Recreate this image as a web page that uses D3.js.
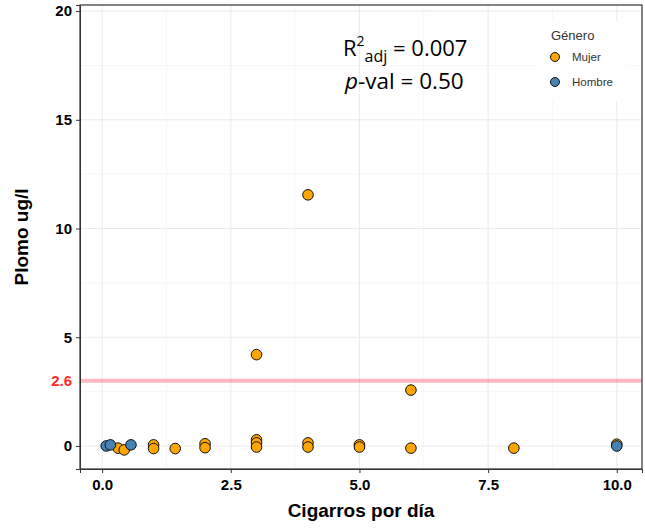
<!DOCTYPE html>
<html>
<head>
<meta charset="utf-8">
<script src="https://cdn.jsdelivr.net/npm/d3@7"></script>
<style>
  body { margin: 0; background: #fff; }
  text { font-family: "Liberation Sans", Arial, sans-serif; }
</style>
</head>
<body>
<div id="chart"></div>
<script>
// cigarettes per day (jittered) and lead values
const mujerX = [0.31, 0.43, 1.0, 1.0, 1.42, 2.0, 2.0, 3.0, 3.0, 3.0, 3.0, 4.0, 4.0, 4.0, 5.0, 5.0, 6.0, 6.0, 8.0, 10.0];
const mujerY = [-0.1, -0.18, 0.05, -0.12, -0.12, 0.1, -0.08, 0.28, 0.14, -0.05, 4.2, 0.14, -0.05, 11.55, 0.05, -0.05, 2.57, -0.1, -0.1, 0.08];
const hombreX = [0.08, 0.16, 0.56, 10.0];
const hombreY = [0.0, 0.05, 0.05, 0.0];

const groups = ["Mujer", "Hombre"];
const groupColors = ["#FFA500", "#4682B4"];

const xTicks = [0, 2.5, 5, 7.5, 10];
const yTicks = [0, 5, 10, 15, 20];
const xMinor = [1.25, 3.75, 6.25, 8.75];
const yMinor = [2.5, 7.5, 12.5, 17.5];

// reference line sits at ~3.0 on the axis but is labelled 2.6
const refLineValue = 3.0;
const refLineLabel = "2.6";

const margin = {top: 5, right: 3, bottom: 60, left: 80},
    width = 645 - margin.left - margin.right,
    height = 529 - margin.top - margin.bottom;

const svg = d3.select("#chart")
    .append("svg")
    .attr("width", width + margin.left + margin.right)
    .attr("height", height + margin.top + margin.bottom)
    .append("g")
    .attr("transform", `translate(${margin.left}, ${margin.top})`);

const x = d3.scaleLinear()
    .domain([-0.43, 10.49])
    .range([0, width]);
const y = d3.scaleLinear()
    .domain([-1.06, 20.28])
    .range([height, 0]);

// grid
const grid = svg.append("g");
grid.selectAll(".vminor").data(xMinor).join("line")
    .attr("x1", d => x(d)).attr("x2", d => x(d))
    .attr("y1", 0).attr("y2", height)
    .attr("stroke", "#f2f2f2").attr("stroke-width", 0.6);
grid.selectAll(".hminor").data(yMinor).join("line")
    .attr("y1", d => y(d)).attr("y2", d => y(d))
    .attr("x1", 0).attr("x2", width)
    .attr("stroke", "#f2f2f2").attr("stroke-width", 0.6);
grid.selectAll(".vmajor").data(xTicks).join("line")
    .attr("x1", d => x(d)).attr("x2", d => x(d))
    .attr("y1", 0).attr("y2", height)
    .attr("stroke", "#ebebeb").attr("stroke-width", 1.1);
grid.selectAll(".hmajor").data(yTicks).join("line")
    .attr("y1", d => y(d)).attr("y2", d => y(d))
    .attr("x1", 0).attr("x2", width)
    .attr("stroke", "#ebebeb").attr("stroke-width", 1.1);

// reference line
svg.append("line")
    .attr("x1", 0).attr("x2", width)
    .attr("y1", y(refLineValue)).attr("y2", y(refLineValue))
    .attr("stroke", "#ff4d5e")
    .attr("stroke-opacity", 0.4)
    .attr("stroke-width", 4);

// points
const points = [];
mujerX.forEach((v, i) => points.push({x: v, y: mujerY[i], g: 0}));
hombreX.forEach((v, i) => points.push({x: v, y: hombreY[i], g: 1}));

svg.append("g")
    .selectAll("circle")
    .data(points)
    .join("circle")
    .attr("cx", d => x(d.x))
    .attr("cy", d => y(d.y))
    .attr("r", 5.3)
    .attr("fill", d => groupColors[d.g])
    .attr("stroke", "#111")
    .attr("stroke-width", 1);

// panel border
svg.append("rect")
    .attr("width", width).attr("height", height)
    .attr("fill", "none")
    .attr("stroke", "#333").attr("stroke-width", 1.2);

// axes
const xAxis = svg.append("g")
    .attr("transform", `translate(0, ${height})`)
    .call(d3.axisBottom(x).tickValues(xTicks).tickFormat(d3.format(".1f")).tickSizeOuter(0).tickSize(4).tickPadding(4));
const yAxis = svg.append("g")
    .call(d3.axisLeft(y).tickValues(yTicks).tickSizeOuter(0).tickSize(4).tickPadding(4));
[xAxis, yAxis].forEach(a => {
    a.select(".domain").attr("stroke", "#333");
    a.selectAll(".tick line").attr("stroke", "#333");
    a.selectAll(".tick text")
        .attr("fill", "#000")
        .style("font-size", "15px")
        .style("font-weight", "bold");
});
xAxis.selectAll(".tick text").attr("dy", "0.85em");

// 2.6 label
svg.append("text")
    .attr("x", -8)
    .attr("y", y(refLineValue))
    .attr("dy", "0.35em")
    .attr("text-anchor", "end")
    .attr("fill", "#ff2a2a")
    .style("font-size", "15px")
    .style("font-weight", "bold")
    .text(refLineLabel);

// axis titles
svg.append("text")
    .attr("text-anchor", "middle")
    .attr("x", width / 2)
    .attr("y", height + 48)
    .style("font-size", "19px")
    .style("font-weight", "bold")
    .text("Cigarros por día");
svg.append("text")
    .attr("text-anchor", "middle")
    .attr("transform", `translate(-52, ${height / 2}) rotate(-90)`)
    .style("font-size", "19px")
    .style("font-weight", "bold")
    .text("Plomo ug/l");

// stats annotation
const r2 = svg.append("text")
    .attr("x", 263).attr("y", 51)
    .style("font-size", "22px")
    .style("font-family", "'Open Sans', sans-serif");
r2.append("tspan").text("R");
r2.append("tspan").attr("dy", -10).style("font-size", "14px").text("2");
r2.append("tspan").attr("dy", 16).style("font-size", "16px").text("adj");
r2.append("tspan").attr("dy", -6).text(" = 0.007");
const pv = svg.append("text")
    .attr("x", 265).attr("y", 84)
    .style("font-size", "22.5px")
    .style("font-family", "'Open Sans', sans-serif");
pv.append("tspan").style("font-style", "italic").text("p");
pv.append("tspan").text("-val = 0.50");

// legend
const legend = svg.append("g").attr("transform", "translate(455, 16)");
legend.append("rect")
    .attr("width", 93).attr("height", 80)
    .attr("fill", "#fff");
legend.append("text")
    .attr("x", 16).attr("y", 19)
    .attr("fill", "#333")
    .style("font-size", "13px")
    .text("Género");
const items = legend.selectAll(".item")
    .data(groups)
    .join("g")
    .attr("transform", (d, i) => `translate(0, ${36 + i * 25})`);
items.append("circle")
    .attr("cx", 20).attr("cy", 0).attr("r", 4.5)
    .attr("fill", (d, i) => groupColors[i])
    .attr("stroke", "#111").attr("stroke-width", 1);
items.append("text")
    .attr("x", 37).attr("y", 0).attr("dy", "0.35em")
    .attr("fill", "#333")
    .style("font-size", "11.5px")
    .text(d => d);
</script>
</body>
</html>
